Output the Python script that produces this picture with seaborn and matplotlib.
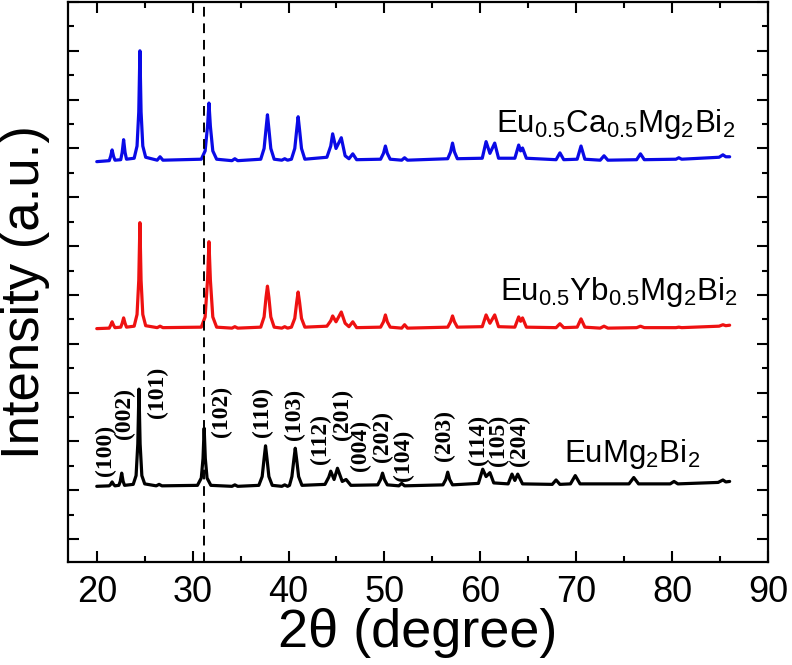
import matplotlib
matplotlib.use("Agg")
import matplotlib.pyplot as plt
import seaborn as sns
import pandas as pd
from matplotlib.ticker import MultipleLocator

# ---------------- data ----------------
black_points = [
    (20.0, 1.08), (21.3, 1.09), (21.45, 1.12), (21.6, 1.17), (21.75, 1.12), (21.9, 1.09),
    (22.3, 1.10), (22.45, 1.18), (22.6, 1.35), (22.75, 1.18), (22.9, 1.10),
    (23.8, 1.12), (24.1, 1.30), (24.28, 1.95), (24.4, 3.07), (24.52, 1.95), (24.7, 1.30), (25.0, 1.13),
    (26.2, 1.09), (26.5, 1.12), (26.8, 1.09),
    (30.5, 1.10), (30.9, 1.25), (31.08, 1.65), (31.2, 2.27), (31.32, 1.65), (31.5, 1.25), (31.9, 1.10),
    (34.1, 1.08), (34.4, 1.11), (34.7, 1.08),
    (36.9, 1.10), (37.25, 1.28), (37.45, 1.65), (37.6, 1.91), (37.75, 1.65), (37.95, 1.28), (38.3, 1.10),
    (39.3, 1.08), (39.6, 1.11), (39.9, 1.08),
    (40.1, 1.10), (40.35, 1.28), (40.55, 1.62), (40.7, 1.86), (40.85, 1.62), (41.05, 1.28), (41.4, 1.10),
    (43.8, 1.12), (44.2, 1.27), (44.4, 1.39), (44.75, 1.22), (45.1, 1.45), (45.6, 1.18),
    (46.0, 1.22), (46.5, 1.10),
    (49.3, 1.11), (49.6, 1.22), (49.8, 1.35), (50.0, 1.22), (50.3, 1.11),
    (51.5, 1.09), (51.8, 1.14), (52.1, 1.09),
    (56.1, 1.11), (56.4, 1.22), (56.6, 1.37), (56.8, 1.22), (57.1, 1.11),
    (59.8, 1.14), (60.25, 1.43), (60.6, 1.28), (61.0, 1.36), (61.4, 1.15),
    (62.9, 1.13), (63.3, 1.33), (63.6, 1.20), (63.9, 1.33), (64.4, 1.13),
    (67.5, 1.12), (67.9, 1.21), (68.3, 1.12), (69.4, 1.13), (69.9, 1.30), (70.4, 1.13),
    (75.5, 1.13), (76.0, 1.26), (76.5, 1.13), (79.8, 1.13), (80.2, 1.18), (80.6, 1.13),
    (84.8, 1.16), (85.3, 1.21), (85.6, 1.17), (86.0, 1.18),
]

red_points = [
    (20.0, 4.31), (21.3, 4.32), (21.45, 4.38), (21.6, 4.45), (21.75, 4.38), (21.9, 4.33),
    (22.5, 4.34), (22.65, 4.42), (22.8, 4.53), (22.95, 4.42), (23.1, 4.34),
    (23.9, 4.36), (24.2, 4.60), (24.38, 5.30), (24.5, 6.48), (24.62, 5.30), (24.8, 4.60), (25.1, 4.37),
    (26.3, 4.33), (26.6, 4.36), (26.9, 4.33),
    (30.9, 4.34), (31.3, 4.55), (31.55, 5.30), (31.7, 6.09), (31.85, 5.30), (32.1, 4.55), (32.5, 4.34),
    (34.1, 4.32), (34.4, 4.35), (34.7, 4.32),
    (37.1, 4.34), (37.45, 4.55), (37.65, 4.95), (37.8, 5.18), (37.95, 4.95), (38.15, 4.55), (38.5, 4.34),
    (39.3, 4.32), (39.6, 4.35), (39.9, 4.32),
    (40.3, 4.34), (40.65, 4.52), (40.85, 4.85), (41.0, 5.06), (41.15, 4.85), (41.35, 4.52), (41.7, 4.34),
    (44.0, 4.36), (44.4, 4.47), (44.6, 4.57), (44.95, 4.45), (45.5, 4.65), (45.9, 4.42),
    (46.3, 4.35), (46.7, 4.45), (47.1, 4.33),
    (49.6, 4.34), (49.9, 4.45), (50.1, 4.59), (50.3, 4.45), (50.6, 4.34),
    (51.8, 4.32), (52.1, 4.39), (52.4, 4.32),
    (56.6, 4.34), (56.9, 4.45), (57.1, 4.57), (57.3, 4.45), (57.6, 4.34),
    (60.2, 4.35), (60.6, 4.59), (61.0, 4.42), (61.5, 4.59), (61.9, 4.35),
    (63.6, 4.34), (64.0, 4.55), (64.2, 4.46), (64.4, 4.53), (64.8, 4.34),
    (67.9, 4.33), (68.3, 4.41), (68.7, 4.33), (70.1, 4.34), (70.5, 4.51), (70.9, 4.34),
    (72.5, 4.32), (72.9, 4.36), (73.3, 4.32), (76.3, 4.33), (76.7, 4.36), (77.1, 4.33),
    (80.4, 4.33), (80.7, 4.34), (81.0, 4.33), (84.9, 4.36), (85.3, 4.39), (85.6, 4.37), (86.0, 4.38),
]

blue_points = [
    (20.0, 7.73), (21.3, 7.75), (21.45, 7.84), (21.6, 7.97), (21.75, 7.84), (21.9, 7.76),
    (22.5, 7.77), (22.65, 7.92), (22.8, 8.18), (22.95, 7.92), (23.1, 7.78),
    (23.9, 7.80), (24.2, 8.05), (24.38, 8.75), (24.5, 10.00), (24.62, 8.75), (24.8, 8.05), (25.1, 7.82),
    (26.3, 7.76), (26.6, 7.83), (26.9, 7.76),
    (30.9, 7.78), (31.3, 7.95), (31.55, 8.45), (31.7, 8.93), (31.85, 8.45), (32.1, 7.95), (32.5, 7.78),
    (34.1, 7.75), (34.4, 7.79), (34.7, 7.75),
    (37.1, 7.78), (37.45, 8.00), (37.65, 8.40), (37.8, 8.69), (37.95, 8.40), (38.15, 8.00), (38.5, 7.78),
    (39.3, 7.76), (39.6, 7.79), (39.9, 7.76),
    (40.3, 7.78), (40.65, 8.00), (40.85, 8.38), (41.0, 8.65), (41.15, 8.38), (41.35, 8.00), (41.7, 7.78),
    (44.0, 7.82), (44.4, 8.05), (44.6, 8.30), (44.95, 8.00), (45.5, 8.22), (45.9, 7.85),
    (46.3, 7.79), (46.7, 7.89), (47.1, 7.77),
    (49.6, 7.78), (49.9, 7.90), (50.1, 8.05), (50.3, 7.90), (50.6, 7.78),
    (51.8, 7.76), (52.1, 7.81), (52.4, 7.76),
    (56.6, 7.79), (56.9, 7.93), (57.1, 8.11), (57.3, 7.93), (57.6, 7.79),
    (60.2, 7.80), (60.6, 8.14), (61.0, 7.90), (61.5, 8.11), (61.9, 7.80),
    (63.6, 7.80), (64.0, 8.07), (64.2, 7.95), (64.4, 8.01), (64.8, 7.80),
    (67.9, 7.77), (68.3, 7.91), (68.7, 7.77), (70.1, 7.78), (70.5, 8.05), (70.9, 7.78),
    (72.5, 7.76), (72.9, 7.85), (73.3, 7.76), (76.3, 7.77), (76.7, 7.89), (77.1, 7.77),
    (80.4, 7.78), (80.7, 7.81), (81.0, 7.78), (84.9, 7.82), (85.3, 7.87), (85.6, 7.83), (86.0, 7.83),
]

hkl_labels = ["(100)", "(002)", "(101)", "(102)", "(110)", "(103)", "(112)", "(201)",
              "(004)", "(202)", "(104)", "(203)", "(114)", "(105)", "(204)"]
hkl_x = [20.95, 22.9, 26.35, 33.0, 37.3, 40.6, 43.3, 45.6, 47.5, 49.8, 52.0, 56.25, 59.8, 61.9, 64.1]
hkl_y = [1.82, 2.58, 3.01, 2.62, 2.60, 2.56, 2.05, 2.56, 1.91, 2.11, 1.72, 2.13, 2.03, 2.03, 2.03]

sample_names = [r"EuMg$_2$Bi$_2$", r"Eu$_{0.5}$Yb$_{0.5}$Mg$_2$Bi$_2$", r"Eu$_{0.5}$Ca$_{0.5}$Mg$_2$Bi$_2$"]
name_x = [82.9, 86.8, 86.6]
name_y = [1.58, 4.90, 8.34]
ref_line_x = 31.15

# ---------------- figure ----------------
sns.set_theme(style="ticks")
plt.rcParams["font.family"] = ["Liberation Sans", "DejaVu Sans"]
plt.rcParams["mathtext.fontset"] = "custom"
plt.rcParams["mathtext.rm"] = "Liberation Sans"
plt.rcParams["mathtext.it"] = "Liberation Sans"
plt.rcParams["text.color"] = "black"
plt.rcParams["axes.labelcolor"] = "black"
plt.rcParams["xtick.color"] = "black"
plt.rcParams["ytick.color"] = "black"

fig = plt.figure(figsize=(7.92, 6.65), dpi=100)
ax = fig.add_axes([68 / 792, 1 - 562 / 665, 700 / 792, 560 / 665])

curves = [(black_points, "black"), (red_points, "#ee1111"), (blue_points, "#0a0ae6")]
for pts, col in curves:
    df = pd.DataFrame(pts, columns=["two_theta", "intensity"])
    sns.lineplot(data=df, x="two_theta", y="intensity", color=col, lw=2.3, ax=ax,
                 estimator=None, sort=False)

ax.axvline(ref_line_x, color="black", lw=1.4, ls=(0, (5, 3.5)))

for lab, x, y in zip(hkl_labels, hkl_x, hkl_y):
    ax.text(x, y, lab, rotation=90, ha="center", va="center", fontsize=17,
            family="Liberation Serif", fontweight="bold")

for name, x, y in zip(sample_names, name_x, name_y):
    ax.text(x, y, name, ha="right", va="baseline", fontsize=22.5)

ax.set_xlim(17, 90)
ax.set_ylim(-0.47, 11.0)
ax.xaxis.set_major_locator(MultipleLocator(10))
ax.xaxis.set_minor_locator(MultipleLocator(5))
ax.yaxis.set_major_locator(MultipleLocator(1))
ax.yaxis.set_minor_locator(MultipleLocator(0.5))
ax.tick_params(which="both", direction="in", top=True, right=True, width=1.5, color="black")
ax.tick_params(which="major", length=8, labelsize=26, pad=9, labelcolor="black")
ax.tick_params(which="minor", length=4.5)
ax.tick_params(axis="y", labelleft=False)
for s in ax.spines.values():
    s.set_linewidth(1.6)
    s.set_color("black")

ax.set_xlabel("2θ (degree)", fontsize=39, labelpad=-1)
ax.set_ylabel("Intensity (a.u.)", fontsize=38)
ax.yaxis.set_label_coords(-0.026, 0.482)

fig.savefig("out.png", dpi=100)
